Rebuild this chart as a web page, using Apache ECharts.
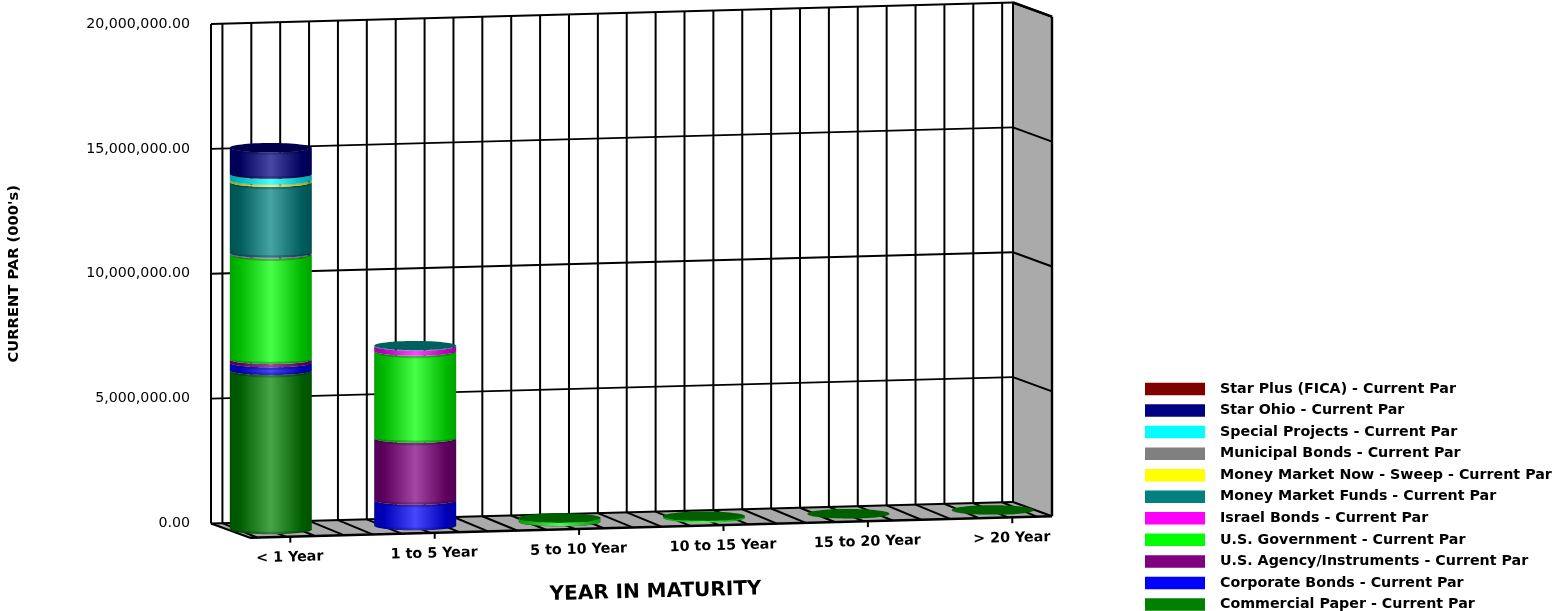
<!DOCTYPE html>
<html><head><meta charset="utf-8">
<style>html,body{margin:0;padding:0;background:#fff}#c{width:1554px;height:611px}</style>
<script src="https://cdn.jsdelivr.net/npm/echarts@6/dist/echarts.min.js"></script>
</head><body><div id="c"></div>
<script>
const categories = ['< 1 Year','1 to 5 Year','5 to 10 Year','10 to 15 Year','15 to 20 Year','> 20 Year'];
const valueTicks = [0,5000000,10000000,15000000,20000000];
const commercialPaper  = [6370000,0,0,0,10000,10000];
const corporateBonds   = [310000,1020000,0,0,0,0];
const usAgency         = [130000,2480000,20000,0,0,0];
const usGovernment     = [4230000,3490000,130000,70000,0,0];
const israelBonds      = [30000,200000,0,0,0,0];
const moneyMarketFunds = [2840000,20000,0,0,0,0];
const moneyMarketNow   = [60000,0,0,0,0,0];
const municipalBonds   = [20000,0,0,0,0,0];
const specialProjects  = [240000,0,0,0,0,0];
const starOhio         = [1060000,0,0,0,0,0];
const starPlus         = [0,0,0,0,0,0];

const seriesNames = ['Commercial Paper - Current Par','Corporate Bonds - Current Par','U.S. Agency/Instruments - Current Par','U.S. Government - Current Par','Israel Bonds - Current Par','Money Market Funds - Current Par','Money Market Now - Sweep - Current Par','Municipal Bonds - Current Par','Special Projects - Current Par','Star Ohio - Current Par','Star Plus (FICA) - Current Par'];
const seriesValues = [commercialPaper,corporateBonds,usAgency,usGovernment,israelBonds,moneyMarketFunds,moneyMarketNow,municipalBonds,specialProjects,starOhio,starPlus];
const seriesColors = ['#008000','#0000ff','#800080','#00ff00','#ff00ff','#008080','#ffff00','#808080','#00ffff','#000080','#800000'];
const capColors    = ['#006000','#0000a0','#500050','#006000','#a000a0','#005f5f','#a0a000','#505050','#00a0a0','#00004c','#500000'];

const FONT = 'DejaVu Sans';
const xMin = -0.2791, xMax = 5.275, yMax = 20000000;
const depthX = 39, depthY = 14.2, slope = 21.5/802;
const rx = 41, ry = 4.7;

function projector(api){
  const left = api.coord([xMin,0])[0];
  return (x,v,d)=>{const p=api.coord([x,v]);return [p[0]+depthX*d,p[1]-(p[0]-left)*slope+depthY*d];};
}
const line=(a,b,w)=>({type:'line',shape:{x1:a[0],y1:a[1],x2:b[0],y2:b[1]},style:{stroke:'#000',lineWidth:w||2,fill:null}});

function renderFrame(params,api){
  const P=projector(api), ch=[];
  ch.push({type:'polygon',shape:{points:[P(xMin,yMax,0),P(xMax,yMax,0),P(xMax,0,0),P(xMin,0,0)]},style:{fill:'#fff'}});
  ch.push({type:'polygon',shape:{points:[P(xMax,yMax,0),P(xMax,yMax,1),P(xMax,0,1),P(xMax,0,0)]},style:{fill:'#aaaaaa'}});
  ch.push({type:'polygon',shape:{points:[P(xMin,0,0),P(xMax,0,0),P(xMax,0,1),P(xMin,0,1)]},style:{fill:'#aaaaaa'}});
  for(let k=-1;k<=26;k++){
    const x=k*0.2;
    ch.push(line(P(x,0,0),P(x,yMax,0)));
    ch.push(line(P(x,0,0),P(x-0.03,0,1)));
  }
  valueTicks.forEach(v=>{
    ch.push(line(P(xMin,v,0),P(xMax,v,0)));
    ch.push(line(P(xMax,v,0),P(xMax,v,1)));
  });
  ch.push(line(P(xMin,0,0),P(xMin,yMax,0)));
  ch.push(line(P(xMax,0,0),P(xMax,yMax,0)));
  ch.push(line(P(xMax,0,1),P(xMax,yMax,1),2.4));
  ch.push(line(P(xMax,yMax,0),P(xMax,yMax,1),2.4));
  ch.push(line(P(xMin,0,0),P(xMin,0,1)));
  ch.push(line(P(xMin,0,1),P(xMax,0,1),2.4));
  categories.forEach((c,i)=>{
    const f=P(i,0,1);
    ch.push(line(f,[f[0],f[1]+6],2));
    ch.push({type:'text',x:f[0]-0.5,y:f[1]+21,rotation:Math.atan(slope),style:{text:c,x:0,y:0,fill:'#000',fontFamily:FONT,fontWeight:'bold',fontSize:14.3,align:'center',verticalAlign:'middle'}});
  });
  return {type:'group',children:ch};
}

function shade(hex,f){
  const n=parseInt(hex.slice(1),16),c=[n>>16,(n>>8)&255,n&255];
  return 'rgb('+c.map(v=>Math.round(f>=0?v+(255-v)*f:v*(1+f))).join(',')+')';
}
function arc(cx,cy,ry2,fromLeft){
  const pts=[];
  for(let t=0;t<=36;t++){
    const a=Math.PI*t/36, th=fromLeft?Math.PI-a:a;
    pts.push([cx+rx*Math.cos(th),cy+ry2*Math.sin(th)]);
  }
  return pts;
}
function renderSegment(params,api){
  const s=params.seriesIndex-1,i=api.value(0),b=api.value(1),t=api.value(2);
  if(t<=b) return null;
  const P=projector(api);
  const pb=P(i,b,0.5),pt=P(i,t,0.5),cx=pb[0];
  const col=seriesColors[s],ch=[];
  const grad=new echarts.graphic.LinearGradient(0,0,1,0,[
    {offset:0,color:shade(col,-0.36)},{offset:0.12,color:shade(col,-0.28)},
    {offset:0.5,color:shade(col,0.28)},
    {offset:0.88,color:shade(col,-0.28)},{offset:1,color:shade(col,-0.36)}]);
  ch.push({type:'polygon',shape:{points:arc(cx,pt[1],ry,false).concat(arc(cx,pb[1],ry,true))},style:{fill:grad}});
  if(pb[1]-pt[1]>6){
    ch.push({type:'polygon',shape:{points:arc(cx,pt[1],ry,false).concat(arc(cx,pt[1],ry+2.5,true))},style:{fill:'rgba(0,0,0,0.22)'}});
    ch.push({type:'polygon',shape:{points:arc(cx,pb[1],ry,false).concat(arc(cx,pb[1],ry-2.5,true))},style:{fill:'rgba(0,0,0,0.22)'}});
  }
  const isTop=seriesValues.slice(s+1).every(a=>!a[i]);
  if(isTop) ch.push({type:'ellipse',shape:{cx:cx,cy:pt[1],rx:rx,ry:ry},style:{fill:capColors[s]}});
  return {type:'group',children:ch};
}

const cum=new Array(categories.length).fill(0);
const segSeries=seriesNames.map((name,s)=>{
  const data=categories.map((c,i)=>{const b=cum[i];cum[i]+=seriesValues[s][i];return [i,b,cum[i]];});
  return {type:'custom',name,data,renderItem:renderSegment,clip:false,silent:true,z:5,
    encode:{x:0,y:[1,2]},itemStyle:{color:seriesColors[s]}};
});

const chart=echarts.init(document.getElementById('c'),null,{renderer:'canvas'});
chart.setOption({
  animation:false,
  backgroundColor:'#fff',
  grid:{left:211,right:541,top:24,bottom:87.5,show:false,outerBoundsMode:'none',containLabel:false},
  xAxis:{type:'value',min:xMin,max:xMax,show:false},
  yAxis:{type:'value',min:0,max:yMax,interval:5000000,
    axisLine:{show:false},
    axisTick:{show:true,length:18,lineStyle:{color:'#000',width:2}},
    splitLine:{show:false},
    axisLabel:{margin:21,color:'#000',fontFamily:FONT,fontSize:14.2,
      formatter:v=>v.toLocaleString('en-US',{minimumFractionDigits:2,maximumFractionDigits:2})},
    name:"CURRENT PAR (000's)",nameLocation:'middle',nameGap:189,nameRotate:90,
    nameTextStyle:{color:'#000',fontFamily:FONT,fontWeight:'bold',fontSize:14.7}},
  legend:{orient:'vertical',left:1140,top:377,height:300,padding:5,itemWidth:60,itemHeight:12.5,itemGap:7.55,icon:'rect',
    selectedMode:false,data:seriesNames.slice().reverse(),
    textStyle:{color:'#000',fontFamily:FONT,fontWeight:'bold',fontSize:14.25,lineHeight:12,padding:[0,0,0,10]}},
  graphic:[{type:'text',x:655.5,y:592,rotation:Math.atan(slope),z:10,
    style:{text:'YEAR IN MATURITY',x:0,y:0,fill:'#000',fontFamily:FONT,fontWeight:'bold',fontSize:20,align:'center',verticalAlign:'middle'}}],
  series:[{type:'custom',name:'frame',data:[[0,0]],renderItem:renderFrame,clip:false,silent:true,z:1,encode:{x:0,y:1}}].concat(segSeries)
});
</script></body></html>
